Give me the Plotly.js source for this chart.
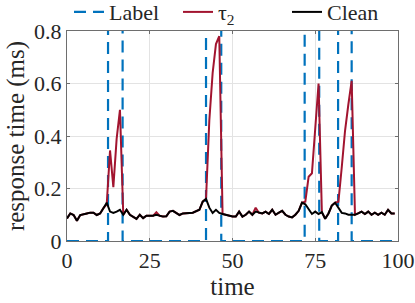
<!DOCTYPE html>
<html>
<head>
<meta charset="utf-8">
<script src="https://cdn.plot.ly/plotly-3.0.1.min.js"></script>
<style>html,body{margin:0;padding:0;background:#fff}#chart{width:415px;height:303px}</style>
</head>
<body>
<div id="chart"></div>
<script>
// time samples 0..99
const clean = [0.086,0.105,0.099,0.077,0.099,0.103,0.105,0.108,0.108,0.099,
0.105,0.125,0.146,0.112,0.107,0.112,0.119,0.100,0.119,0.100,
0.093,0.084,0.100,0.087,0.096,0.096,0.096,0.100,0.096,0.093,
0.094,0.112,0.115,0.107,0.099,0.105,0.107,0.107,0.108,0.115,
0.119,0.150,0.160,0.127,0.107,0.119,0.107,0.103,0.100,0.097,
0.093,0.093,0.112,0.093,0.100,0.112,0.100,0.112,0.107,0.105,
0.112,0.103,0.119,0.100,0.108,0.115,0.100,0.093,0.090,0.100,
0.115,0.146,0.140,0.119,0.103,0.112,0.103,0.110,0.085,0.105,
0.135,0.146,0.125,0.107,0.105,0.100,0.100,0.100,0.105,0.112,
0.103,0.112,0.100,0.108,0.100,0.108,0.100,0.119,0.105,0.105];
const tau2 = [0.086,0.105,0.099,0.077,0.099,0.103,0.105,0.108,0.108,0.099,
0.105,0.125,0.140,0.345,0.205,0.390,0.500,0.100,0.119,0.100,
0.093,0.084,0.100,0.087,0.096,0.096,0.096,0.110,0.096,0.093,
0.094,0.112,0.115,0.107,0.099,0.105,0.107,0.107,0.108,0.115,
0.119,0.150,0.160,0.460,0.640,0.750,0.780,0.103,0.100,0.097,
0.093,0.093,0.112,0.093,0.100,0.112,0.100,0.127,0.107,0.105,
0.112,0.103,0.119,0.100,0.108,0.115,0.100,0.093,0.090,0.100,
0.115,0.146,0.150,0.245,0.258,0.430,0.600,0.110,0.085,0.105,
0.135,0.146,0.150,0.280,0.420,0.520,0.610,0.100,0.105,0.112,
0.103,0.112,0.100,0.108,0.100,0.108,0.100,0.119,0.105,0.105];
const labelStart = [12.4, 42.0, 71.8, 81.9];
const labelEnd   = [16.8, 46.6, 76.2, 86.0];
const labelHigh = 1, labelLow = 0, timeMin = 0, timeMax = 100;
const xTicks = [0, 25, 50, 75, 100];
const yTicks = [0, 0.2, 0.4, 0.6, 0.8];
const yTickText = ['0', '0.2', '0.4', '0.6', '0.8'];

const t = clean.map((_, i) => i);
const lx = [timeMin], ly = [labelLow];
labelStart.forEach((s, i) => {
  lx.push(s, s, labelEnd[i], labelEnd[i]);
  ly.push(labelLow, labelHigh, labelHigh, labelLow);
});
lx.push(timeMax); ly.push(labelLow);

const serif = "Liberation Serif, Times New Roman, serif";
const txt = '#262626';
const traces = [
  {x: lx, y: ly, name: 'Label', mode: 'lines',
   line: {color: '#0072BD', width: 2.2, dash: '12px,7px'}},
  {x: t, y: tau2, name: 'τ<sub>2</sub>', mode: 'lines',
   line: {color: '#A2142F', width: 2}},
  {x: t, y: clean, name: 'Clean', mode: 'lines',
   line: {color: '#000000', width: 2}}
];
const axisCommon = {
  showline: true, linecolor: '#6e6e6e', linewidth: 1, mirror: 'ticks',
  ticks: 'inside', ticklen: 3, tickcolor: '#6e6e6e',
  showgrid: true, gridcolor: '#e3e3e3', gridwidth: 1, zeroline: false,
  tickfont: {family: serif, size: 22, color: txt}
};
const layout = {
  width: 415, height: 303,
  margin: {l: 67, r: 17, t: 31, b: 62, autoexpand: false},
  paper_bgcolor: '#fff', plot_bgcolor: '#fff',
  showlegend: true,
  legend: {orientation: 'h', x: 0.5, xanchor: 'center', y: 1.09, yanchor: 'middle',
    font: {family: serif, size: 22, color: txt}, bgcolor: 'rgba(0,0,0,0)',
    tracegroupgap: 0, itemwidth: 30, entrywidth: 64, entrywidthmode: 'pixels'},
  xaxis: Object.assign({}, axisCommon, {range: [timeMin, timeMax], tickvals: xTicks,
    title: {text: 'time', font: {family: serif, size: 25, color: txt}, standoff: 2}}),
  yaxis: Object.assign({}, axisCommon, {range: [0, 0.8], tickvals: yTicks, ticktext: yTickText,
    title: {text: 'response time (ms)', font: {family: serif, size: 25, color: txt}, standoff: 2}})
};
Plotly.newPlot('chart', traces, layout, {displayModeBar: false, staticPlot: true});
</script>
</body>
</html>
